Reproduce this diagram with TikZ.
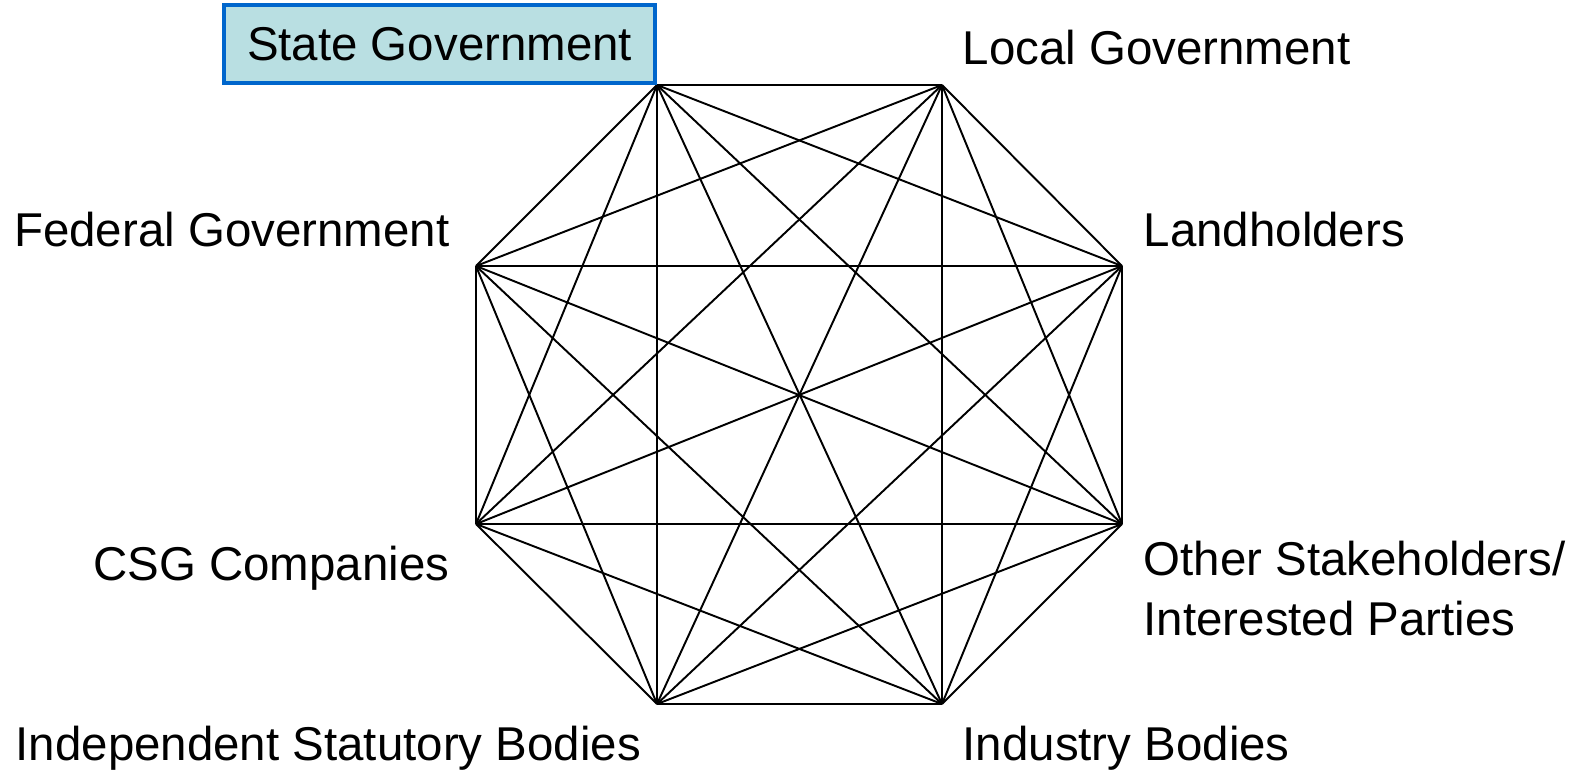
\documentclass[tikz,border=0pt]{standalone}
\usepackage{fontspec}
\setmainfont{Liberation Sans}
\usepackage{xcolor}
\usetikzlibrary{positioning}
\definecolor{govfill}{HTML}{B9DFE2}
\definecolor{govline}{HTML}{0066CC}

\begin{document}
\begin{tikzpicture}[
		link/.style={draw, line width=0.55pt},
		party/.style={inner sep=0pt, font=\fontsize{13.5pt}{16.5pt}\selectfont},
		stategov/.style={party, draw=govline, fill=govfill, line width=1.1pt,
			minimum width=4.31cm, minimum height=0.78cm}
		]
		\useasboundingbox (0,0) rectangle (15.88,7.70);
		
		%corners
		\coordinate (sg) at (6.57,6.85);
		\coordinate (lg) at (9.42,6.85);
		\coordinate (lh) at (11.22,5.04);
		\coordinate (os) at (11.22,2.46);
		\coordinate (ib) at (9.42,0.66);
		\coordinate (isb) at (6.57,0.66);
		\coordinate (csg) at (4.76,2.46);
		\coordinate (fg) at (4.76,5.04);
		
		%state
		\draw[link] (sg) -- (lg);
		\draw[link] (sg) -- (lh);
		\draw[link] (sg) -- (os);
		\draw[link] (sg) -- (ib);
		\draw[link] (sg) -- (isb);
		\draw[link] (sg) -- (csg);
		\draw[link] (sg) -- (fg);
		
		%local
		\draw[link] (lg) -- (lh);
		\draw[link] (lg) -- (os);
		\draw[link] (lg) -- (ib);
		\draw[link] (lg) -- (isb);
		\draw[link] (lg) -- (csg);
		\draw[link] (lg) -- (fg);
		
		%landholders
		\draw[link] (lh) -- (os);
		\draw[link] (lh) -- (ib);
		\draw[link] (lh) -- (isb);
		\draw[link] (lh) -- (csg);
		\draw[link] (lh) -- (fg);
		
		%other stakeholders
		\draw[link] (os) -- (ib);
		\draw[link] (os) -- (isb);
		\draw[link] (os) -- (csg);
		\draw[link] (os) -- (fg);
		
		%industry
		\draw[link] (ib) -- (isb);
		\draw[link] (ib) -- (csg);
		\draw[link] (ib) -- (fg);
		
		%statutory bodies
		\draw[link] (isb) -- (csg);
		\draw[link] (isb) -- (fg);
		
		%csg
		\draw[link] (csg) -- (fg);
		
		%labels
		\node[stategov, anchor=south east] (sgbox) at (sg) {State Government};
		\node[party, anchor=base west] (lgtext) at (9.62,7.06) {Local Government};
		\node[party, anchor=base east] (fgtext) at (4.50,5.24) {Federal Government};
		\node[party, anchor=base west] (lhtext) at (11.43,5.24) {Landholders};
		\node[party, anchor=base east] (csgtext) at (4.50,1.90) {CSG Companies};
		\node[party, anchor=base west] (ostext) at (11.43,1.95) {Other Stakeholders/};
		\node[party, below=0.24cm of ostext.south west, anchor=north west] (iptext) {Interested Parties};
		\node[party, anchor=base west] (isbtext) at (0.15,0.10) {Independent Statutory Bodies};
		\node[party, anchor=base west] (ibtext) at (9.62,0.10) {Industry Bodies};
	\end{tikzpicture}
\end{document}
